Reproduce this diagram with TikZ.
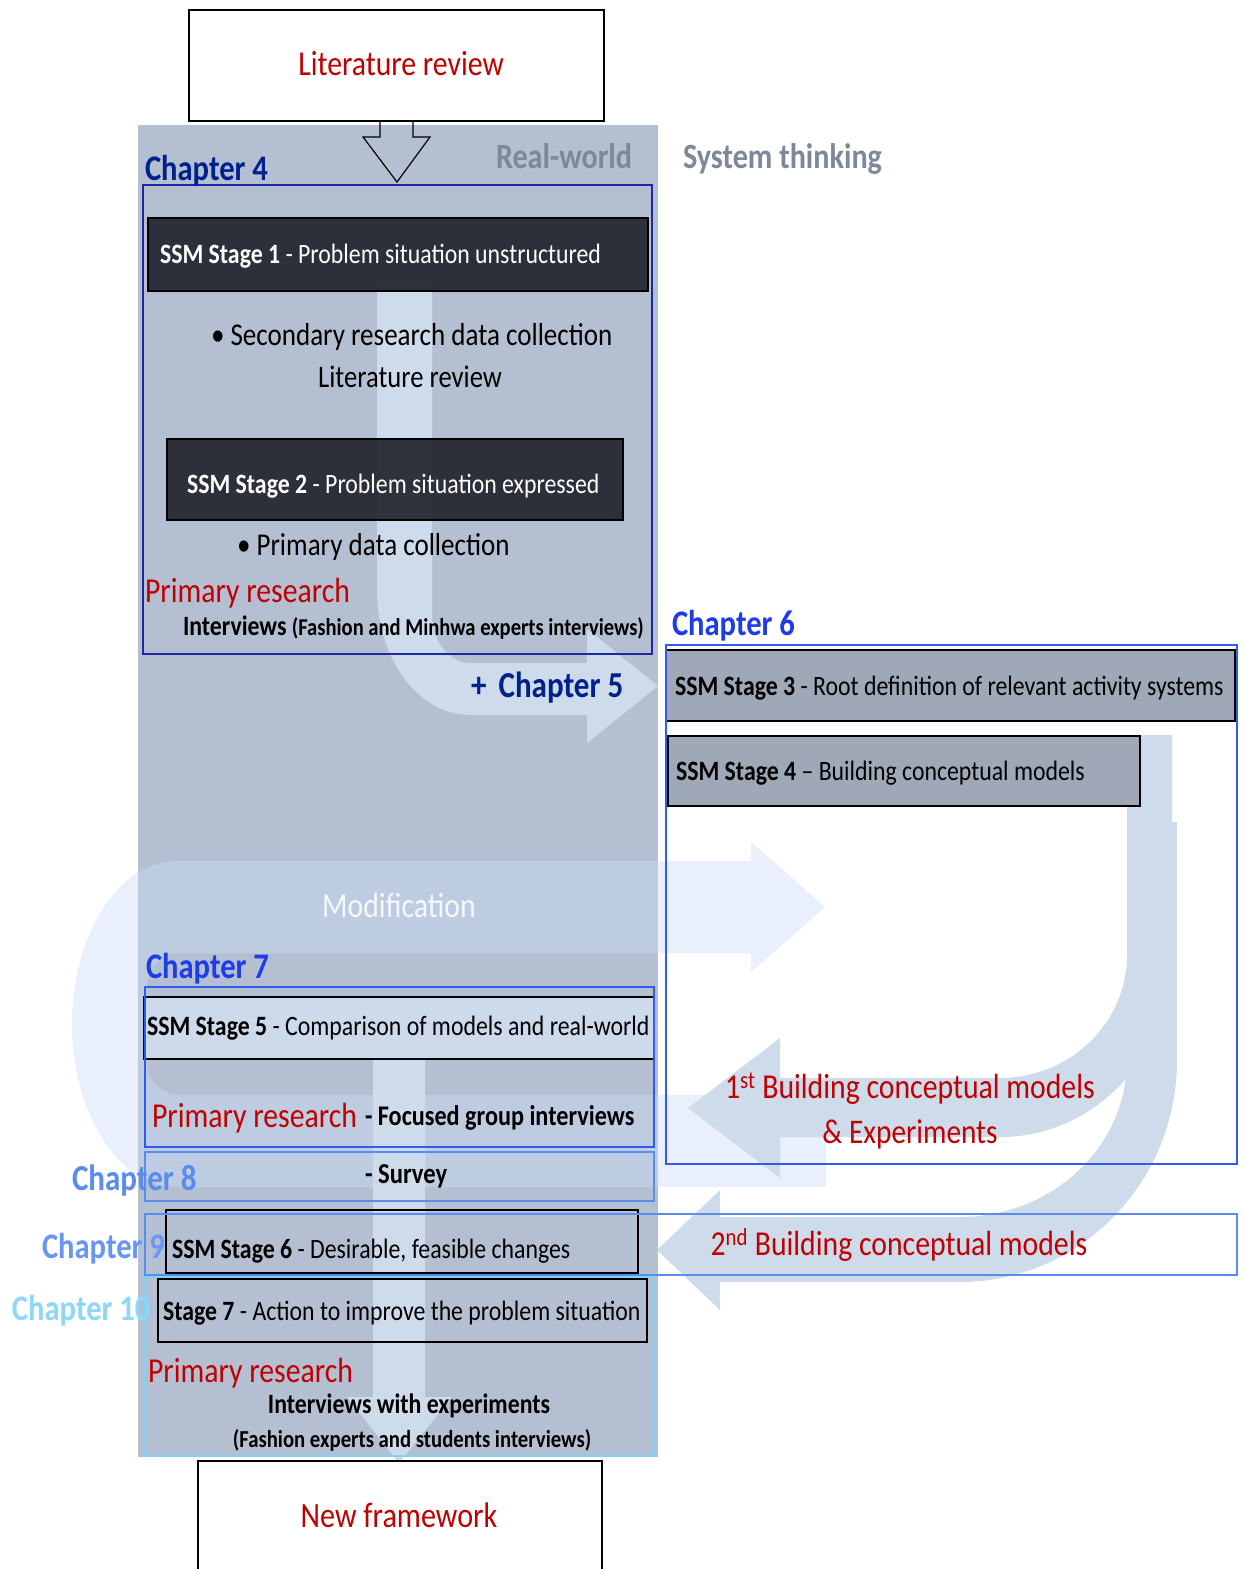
\documentclass[tikz,border=0pt]{standalone}
\usepackage{fontspec}
\setmainfont{Carlito}[FakeStretch=0.85]
\usetikzlibrary{calc}

\definecolor{colbg}{RGB}{180,192,210}
\definecolor{darkbox}{RGB}{38,41,51}
\definecolor{greybox}{RGB}{158,168,183}
\definecolor{palebox}{RGB}{205,218,236}
\definecolor{flowc}{RGB}{206,219,235}
\definecolor{loopc}{RGB}{204,222,247}
\definecolor{redt}{RGB}{192,0,0}
\definecolor{navy}{RGB}{0,32,140}
\definecolor{navyline}{RGB}{30,40,160}
\definecolor{blueA}{RGB}{30,60,235}
\definecolor{blueline}{RGB}{50,90,240}
\definecolor{blueB}{RGB}{90,140,240}
\definecolor{blueC}{RGB}{105,150,245}
\definecolor{cyanC}{RGB}{140,215,250}
\definecolor{cyanline}{RGB}{130,210,245}
\definecolor{greyt}{RGB}{125,136,152}
\definecolor{modwhite}{RGB}{245,248,255}

\newcommand\setfs[1]{\fontsize{#1pt}{#1pt}\selectfont}

\begin{document}
\begin{tikzpicture}[x=1pt, y=-1pt,
  box/.style={draw=black, line width=1.6pt, inner sep=0pt, outer sep=0pt, anchor=north west},
  chapbox/.style={line width=1.4pt, inner sep=0pt, outer sep=0pt, anchor=north west},
  lbl/.style={inner sep=0pt, outer sep=0pt, anchor=base west},
  clbl/.style={inner sep=0pt, outer sep=0pt, anchor=base},
  flow/.style={fill=flowc},
  hollow/.style={draw=black, line width=1.2pt, line join=miter}]

\clip (0,0) rectangle (1242,1569);
\fill[white] (0,0) rectangle (1242,1569);

% real-world column
\fill[colbg] (138,125) rectangle (658,1457);

% large translucent U-turn arrow (modification loop)
\fill[loopc, fill opacity=0.43]
  (826,1187) -- (177,1187)
  arc[start angle=90, end angle=270, x radius=105, y radius=163]
  -- (751,861) -- (751,842) -- (825,907) -- (751,972) -- (751,953) -- (180,953)
  arc[start angle=270, end angle=180, x radius=33, y radius=32]
  -- (147,1063)
  arc[start angle=180, end angle=90, x radius=33, y radius=32]
  -- (826,1095) -- cycle;

% bent arrow from stage 1 towards stage 3
\fill[flow]
  (377,283) -- (377,590)
  arc[start angle=180, end angle=90, x radius=93, y radius=125]
  -- (587,715) -- (587,743) -- (658,686) -- (587,629) -- (587,663) -- (470,663)
  arc[start angle=90, end angle=180, x radius=38, y radius=48]
  -- (432,283) -- cycle;

% first U-turn arrow (1st building of conceptual models)
\fill[flow]
  (1127,735) -- (1172,735) -- (1172,955)
  arc[start angle=0, end angle=90, x radius=172, y radius=182]
  -- (780,1137) -- (780,1178) -- (688,1108) -- (780,1038) -- (780,1078) -- (1000,1078)
  arc[start angle=90, end angle=0, x radius=127, y radius=123]
  -- cycle;

% second U-turn arrow (2nd building of conceptual models)
\fill[flow]
  (1127,822) -- (1177,822) -- (1177,1060)
  arc[start angle=0, end angle=90, x radius=217, y radius=222]
  -- (720,1282) -- (720,1310) -- (657,1250) -- (720,1190) -- (720,1217) -- (960,1217)
  arc[start angle=90, end angle=0, x radius=167, y radius=157]
  -- cycle;

% downward arrow to the new framework
\fill[flow]
  (373,1059) -- (425,1059) -- (425,1397) -- (452,1397) -- (399,1463)
  -- (347,1397) -- (373,1397) -- cycle;

% input and output boxes
\node[box, line width=1.2pt, fill=white, minimum width=415pt, minimum height=111pt] (lit) at (189,10) {};
\node[box, line width=1.2pt, fill=white, minimum width=404pt, minimum height=140pt] (nf) at (198,1461) {};

\draw[hollow] ($(lit.south)+(-16.5,0)$) -- ($(lit.south)+(-16.5,16)$) -- ($(lit.south)+(-33.5,16)$)
  -- ($(lit.south)+(0.5,61)$) -- ($(lit.south)+(33.5,16)$) -- ($(lit.south)+(16.5,16)$)
  -- ($(lit.south)+(16.5,0)$);

% SSM stage boxes
\node[box, fill=darkbox, fill opacity=0.95, minimum width=500pt, minimum height=73pt] (s1) at (148,218) {};
\node[box, fill=darkbox, fill opacity=0.95, minimum width=456pt, minimum height=81pt] (s2) at (167,439) {};
\node[box, fill=greybox, minimum width=569pt, minimum height=71pt] (s3) at (666,650) {};
\node[box, fill=greybox, minimum width=472pt, minimum height=70pt] (s4) at (668,736) {};
\node[box, fill=palebox, line width=2pt, minimum width=510pt, minimum height=62pt] (s5) at (144,997) {};
\node[box, minimum width=472pt, minimum height=63pt] (s6) at (166,1210) {};
\node[box, minimum width=489pt, minimum height=63pt] (s7) at (158,1279) {};

% chapter frames
\node[chapbox, draw=navyline, minimum width=509pt, minimum height=469pt] (c4) at (143,185) {};
\node[chapbox, draw=blueline, minimum width=571pt, minimum height=519pt] (c6) at (666,645) {};
\node[chapbox, draw=blueline, minimum width=509pt, minimum height=160pt] (c7) at (145,987) {};
\node[chapbox, draw=blueB, minimum width=509pt, minimum height=49pt] (c8) at (145,1152) {};
\node[chapbox, draw=blueB, minimum width=1092pt, minimum height=61pt] (c9) at (145,1214) {};
\node[chapbox, draw=cyanline, minimum width=510pt, minimum height=179pt] (c10) at (144,1277) {};

% texts
\node[clbl, text=redt] (litt) at (401,75) {\setfs{35}Literature review};
\node[lbl, text=navy] (ch4) at (145,180) {\setfs{36}\textbf{Chapter 4}};
\node[lbl, text=greyt] (rw) at (496,168) {\setfs{35.5}\textbf{Real-world}};
\node[lbl, text=greyt] (st) at (683,168) {\setfs{35.5}\textbf{System thinking}};
\node[lbl, text=white] (s1t) at (160,263) {\setfs{28}\textbf{SSM Stage 1} - Problem situation unstructured};
\node[lbl] (b1) at (211,345) {\setfs{31.8}\textbullet\ Secondary research data collection};
\node[clbl] (b1b) at (410,387) {\setfs{31.3}Literature review};
\node[lbl, text=white] (s2t) at (187,493) {\setfs{28}\textbf{SSM Stage 2} - Problem situation expressed};
\node[lbl] (b2) at (237,555) {\setfs{31.8}\textbullet\ Primary data collection};
\node[lbl, text=redt] (pr1) at (145,602) {\setfs{35}Primary research};
\node[lbl] (iv1) at (183,635) {\setfs{28}\textbf{Interviews} {\setfs{24.2}\textbf{(Fashion and Minhwa experts interviews)}}};
\node[lbl, text=navy] (ch5) at (471,697) {\setfs{36.5}\textbf{+\,\,Chapter 5}};
\node[lbl, text=blueA] (ch6) at (672,635) {\setfs{36}\textbf{Chapter 6}};
\node[lbl] (s3t) at (675,695) {\setfs{28}\textbf{SSM Stage 3} - Root definition of relevant activity systems};
\node[lbl] (s4t) at (676,780) {\setfs{28}\textbf{SSM Stage 4} -- Building conceptual models};
\node[clbl, text=modwhite] (mod) at (399,917) {\setfs{35}Modification};
\node[lbl, text=blueA] (ch7) at (146,978) {\setfs{36}\textbf{Chapter 7}};
\node[lbl] (s5t) at (147,1035) {\setfs{28}\textbf{SSM Stage 5} - Comparison of models and real-world};
\node[lbl, text=redt] (pr2) at (152,1127) {\setfs{35}Primary research};
\node[lbl] (fg) at (365,1125) {\setfs{28.5}\textbf{- Focused group interviews}};
\node[lbl, text=blueB] (ch8) at (72,1190) {\setfs{36.5}\textbf{Chapter 8}};
\node[lbl] (sv) at (365,1183) {\setfs{29}\textbf{- Survey}};
\node[lbl, text=blueC] (ch9) at (42,1258) {\setfs{36}\textbf{Chapter 9}};
\node[lbl] (s6t) at (172,1258) {\setfs{28}\textbf{SSM Stage 6} - Desirable, feasible changes};
\node[lbl, text=cyanC] (ch10) at (12,1320) {\setfs{36}\textbf{Chapter 10}};
\node[lbl] (s7t) at (163,1320) {\setfs{28}\textbf{Stage 7} - Action to improve the problem situation};
\node[lbl, text=redt] (pr3) at (148,1382) {\setfs{35}Primary research};
\node[clbl] (iv3) at (409,1413) {\setfs{28}\textbf{Interviews with experiments}};
\node[clbl] (iv3b) at (412,1447) {\setfs{24.4}\textbf{(Fashion experts and students interviews)}};
\node[clbl, text=redt] (nft) at (399,1527) {\setfs{35.5}New framework};
\node[clbl, text=redt] (bm1) at (910,1098) {\setfs{35}1\textsuperscript{st} Building conceptual models};
\node[clbl, text=redt] (bm1b) at (910,1143) {\setfs{34.5}\& Experiments};
\node[clbl, text=redt] (bm2) at (899,1255) {\setfs{35}2\textsuperscript{nd} Building conceptual models};

\end{tikzpicture}
\end{document}
